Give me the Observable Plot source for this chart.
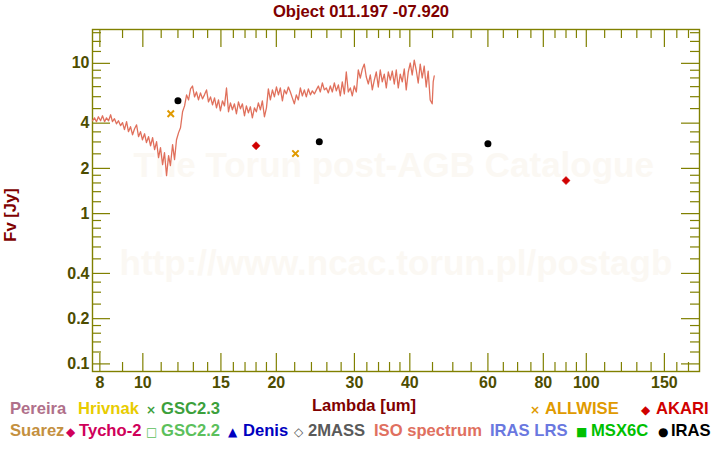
<!DOCTYPE html>
<html><head><meta charset="utf-8">
<script src="https://cdn.jsdelivr.net/npm/d3@7"></script>
<script src="https://cdn.jsdelivr.net/npm/@observablehq/plot@0.6"></script>
<style>
body{margin:0;background:#fff;}
#wrap{position:relative;width:720px;height:450px;overflow:hidden;font-family:"Liberation Sans",Arial,sans-serif;font-weight:bold;}
#wrap svg{position:absolute;left:0;top:0;}
.t{position:absolute;white-space:nowrap;line-height:1;font-size:16.6px;}
.s{position:absolute;white-space:nowrap;line-height:1;font-size:12px;font-family:"DejaVu Sans",sans-serif;}
</style></head><body><div id="wrap"></div>
<script>
const title = "Object 011.197 -07.920";
const xLabel = "Lambda [um]";
const yLabel = "Fv [Jy]";
const watermark1 = "The Torun post-AGB Catalogue";
const watermark2 = "http://www.ncac.torun.pl/postagb";

// ISO spectrum (wavelength um, flux Jy)
const isoWave = [7.70,7.78,7.86,7.94,8.03,8.11,8.20,8.28,8.37,8.46,8.54,8.63,8.72,8.81,8.91,9.00,9.09,9.19,9.28,9.38,9.48,9.58,9.68,9.78,9.88,9.98,10.09,10.19,10.30,10.41,10.52,10.63,10.74,10.85,10.96,11.08,11.19,11.31,11.43,11.54,11.67,11.79,11.91,12.04,12.16,12.29,12.42,12.55,12.68,12.81,12.94,13.08,13.21,13.35,13.49,13.63,13.77,13.92,14.06,14.21,14.36,14.51,14.66,14.81,14.96,15.12,15.28,15.44,15.60,15.76,15.92,16.09,16.26,16.43,16.60,16.77,16.95,17.12,17.30,17.48,17.66,17.85,18.03,18.22,18.41,18.60,18.80,19.00,19.19,19.39,19.60,19.80,20.01,20.22,20.42,20.64,20.85,21.07,21.29,21.51,21.73,21.96,22.19,22.42,22.66,22.89,23.13,23.37,23.62,23.87,24.11,24.37,24.62,24.88,25.13,25.40,25.66,25.93,26.20,26.47,26.75,27.03,27.31,27.60,27.88,28.17,28.47,28.76,29.06,29.37,29.67,29.98,30.30,30.61,30.93,31.26,31.58,31.91,32.25,32.58,32.92,33.27,33.61,33.96,34.31,34.67,35.03,35.40,35.77,36.14,36.52,36.90,37.28,37.67,38.06,38.46,38.86,39.26,39.67,40.09,40.50,40.93,41.35,41.78,42.22,42.66,43.10,43.55,44.00,44.46,44.93,45.16,45.40];
const isoFlux = [4.15,4.34,4.09,4.41,4.15,4.48,4.09,4.34,4.15,4.55,4.09,4.28,3.96,4.15,3.85,4.03,3.62,4.09,3.51,3.79,3.35,3.67,3.90,3.25,3.51,3.10,3.40,2.97,3.25,2.83,3.20,2.67,3.01,2.36,2.75,2.12,2.55,1.79,2.43,2.09,2.88,2.29,3.10,3.46,3.73,4.76,5.21,6.17,5.71,6.76,7.07,5.98,6.45,5.71,6.36,5.80,6.17,6.66,5.54,5.98,5.30,5.89,5.06,5.71,4.83,5.63,5.21,6.86,4.76,5.46,4.91,5.38,4.62,5.54,4.98,5.38,4.48,5.21,4.69,5.14,4.34,5.06,4.76,5.46,4.91,5.63,4.41,5.06,6.76,5.71,6.66,5.98,6.96,6.17,6.86,5.63,6.66,6.26,6.96,6.45,5.89,5.38,6.17,5.71,6.86,6.07,6.66,5.98,6.76,6.17,6.56,6.26,6.66,7.07,6.45,7.40,6.66,6.86,6.36,7.07,6.45,7.40,6.56,7.18,6.07,7.52,6.26,8.76,6.45,6.86,6.07,7.07,6.45,9.03,7.99,9.17,9.89,8.11,7.29,8.37,6.66,7.75,8.76,6.96,9.03,7.52,8.49,6.86,8.76,7.75,8.89,7.29,9.03,6.86,8.49,7.52,9.17,6.66,8.76,10.05,8.37,10.52,9.03,7.40,9.89,7.99,9.60,6.96,8.89,5.71,5.38,7.52,8.24];

const allwiseWave = [11.56, 22.09];
const allwiseFlux = [4.62, 2.51];
const irasWave = [12, 25, 60];
const irasFlux = [5.63, 3.01, 2.92];
const akariWave = [18, 90];
const akariFlux = [2.83, 1.66];

const xMajor = [8, 10, 15, 20, 30, 40, 60, 80, 100, 150];
const xMinor = [9, 11, 12, 13, 14, 16, 17, 18, 19, 22, 24, 26, 28, 32, 34, 36, 38, 45, 50, 55, 65, 70, 75, 85, 90, 95, 110, 120, 130, 140, 160, 170];
const yMajor = [0.1, 0.2, 0.4, 1, 2, 4, 10];
const yMinor = [0.12, 0.14, 0.16, 0.18, 0.25, 0.3, 0.35, 0.5, 0.6, 0.7, 0.8, 0.9, 1.2, 1.4, 1.6, 1.8, 2.5, 3, 3.5, 5, 6, 7, 8, 9, 12, 14, 16];

const legendRow1 = [
  {sym: "", text: "Pereira", color: "#b0708a"},
  {sym: "", text: "Hrivnak", color: "#e8cc00"},
  {sym: "×", text: "GSC2.3", color: "#3ca03c"},
  {sym: "×", text: "ALLWISE", color: "#e09a00"},
  {sym: "◆", text: "AKARI", color: "#d00000"}
];
const legendRow2 = [
  {sym: "", text: "Suarez", color: "#c49040"},
  {sym: "◆", text: "Tycho-2", color: "#d0005a"},
  {sym: "□", text: "GSC2.2", color: "#5cc05c"},
  {sym: "▲", text: "Denis", color: "#0000c0"},
  {sym: "◇", text: "2MASS", color: "#5a5a5a"},
  {sym: "", text: "ISO spectrum", color: "#e07060"},
  {sym: "", text: "IRAS LRS", color: "#6a78e0"},
  {sym: "■", text: "MSX6C", color: "#00c000"},
  {sym: "●", text: "IRAS", color: "#000000"}
];
// layout (left x of symbol / text) for legend entries
const row1Pos = [[null,10],[null,78],[146,161],[530,545],[641,656]];
const row2Pos = [[null,10],[66,79],[146,161],[228,243],[294,308],[null,374],[null,490],[576,591],[658,671]];

const W = 720, H = 450, mL = 92, mR = 21, mT = 29, mB = 79;
const pw = W - mL - mR, ph = H - mT - mB;
const axisCol = "#808000", labCol = "#4d4d00";

const iso = isoWave.map((w, i) => ({w, f: isoFlux[i]}));
const allwise = allwiseWave.map((w, i) => ({w, f: allwiseFlux[i]}));
const iras = irasWave.map((w, i) => ({w, f: irasFlux[i]}));
const akari = akariWave.map((w, i) => ({w, f: akariFlux[i]}));

const chart = Plot.plot({
  width: W, height: H,
  marginLeft: mL, marginRight: mR, marginTop: mT, marginBottom: mB,
  x: {type: "log", domain: [7.7, 180], axis: null},
  y: {type: "log", domain: [0.089, 16.8], axis: null},
  style: {fontFamily: "'Liberation Sans', Arial, sans-serif", background: "transparent", overflow: "visible"},
  marks: [
    Plot.text([watermark1], {frameAnchor: "top-left", dx: 41, dy: 147, text: d => d, fontSize: 35, fontWeight: "bold", fill: "#fbf8f3", textAnchor: "start", lineAnchor: "bottom"}),
    Plot.text([watermark2], {frameAnchor: "top-left", dx: 27, dy: 245, text: d => d, fontSize: 35, fontWeight: "bold", fill: "#fbf8f3", textAnchor: "start", lineAnchor: "bottom"}),
    Plot.tickX(xMajor, {x: d => d, stroke: axisCol, strokeWidth: 1.2, insetTop: ph - 18}),
    Plot.tickX(xMajor, {x: d => d, stroke: axisCol, strokeWidth: 1.2, insetBottom: ph - 18}),
    Plot.tickX(xMinor, {x: d => d, stroke: axisCol, strokeWidth: 1.2, insetTop: ph - 9}),
    Plot.tickX(xMinor, {x: d => d, stroke: axisCol, strokeWidth: 1.2, insetBottom: ph - 9}),
    Plot.tickY(yMajor, {y: d => d, stroke: axisCol, strokeWidth: 1.2, insetRight: pw - 18}),
    Plot.tickY(yMajor, {y: d => d, stroke: axisCol, strokeWidth: 1.2, insetLeft: pw - 18}),
    Plot.tickY(yMinor, {y: d => d, stroke: axisCol, strokeWidth: 1.2, insetRight: pw - 9}),
    Plot.tickY(yMinor, {y: d => d, stroke: axisCol, strokeWidth: 1.2, insetLeft: pw - 9}),
    Plot.frame({stroke: axisCol, strokeWidth: 1.4}),
    Plot.text(xMajor, {x: d => d, frameAnchor: "bottom", lineAnchor: "top", dy: 5, text: d => String(d), fontSize: 16, fontWeight: "bold", fill: labCol}),
    Plot.text(yMajor, {y: d => d, frameAnchor: "left", textAnchor: "end", dx: -3, text: d => String(d), fontSize: 16, fontWeight: "bold", fill: labCol}),
    Plot.line(iso, {x: "w", y: "f", stroke: "#e0705c", strokeWidth: 1.3}),
    Plot.dot(allwise, {x: "w", y: "f", symbol: "times", r: 3, stroke: "#e09a00", strokeWidth: 2}),
    Plot.dot(akari, {x: "w", y: "f", symbol: "diamond2", r: 3.6, fill: "#d00000", stroke: "#d00000", strokeWidth: 0.6}),
    Plot.dot(iras, {x: "w", y: "f", r: 3.5, fill: "#000000"})
  ]
});

const wrap = document.getElementById("wrap");
wrap.appendChild(chart);

function addText(txt, left, top, color, cls, extra) {
  const d = document.createElement("div");
  d.className = cls;
  d.textContent = txt;
  d.style.left = left + "px";
  d.style.top = top + "px";
  d.style.color = color;
  if (extra) Object.assign(d.style, extra);
  wrap.appendChild(d);
  return d;
}

// title
addText(title, 361, 4, "#800000", "t", {transform: "translateX(-50%)"});
// axis labels
addText(xLabel, 364, 398, "#800000", "t", {transform: "translateX(-50%)"});
addText(yLabel, 11, 215, "#800000", "t", {transform: "translate(-50%,-50%) rotate(-90deg)"});

function legendRow(items, pos, top) {
  items.forEach((it, i) => {
    const [sx, tx] = pos[i];
    if (it.sym && sx !== null) addText(it.sym, sx, top + 3, it.color, "s");
    addText(it.text, tx, top, it.color, "t");
  });
}
legendRow(legendRow1, row1Pos, 401);
legendRow(legendRow2, row2Pos, 423);
</script></body></html>
